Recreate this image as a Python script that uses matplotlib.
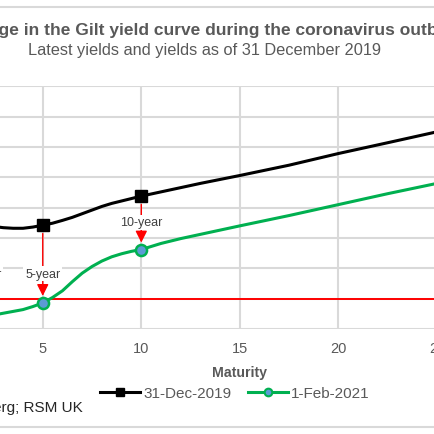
import matplotlib
matplotlib.use("Agg")
import matplotlib.pyplot as plt
from matplotlib.lines import Line2D

plt.rcParams['font.family'] = ['Liberation Sans', 'DejaVu Sans']

# ---- data ----
maturity = [2, 2.5, 3, 3.5, 4, 4.5, 5, 5.5, 6, 6.5, 7, 7.5, 8, 8.5, 9, 9.5,
            10, 11, 12, 13, 15, 17.5, 20, 22.5, 25, 30]
dec2019 = [0.60, 0.595, 0.585, 0.58, 0.58, 0.59, 0.605, 0.622, 0.645, 0.67, 0.70,
           0.73, 0.76, 0.785, 0.805, 0.825, 0.845, 0.88, 0.915, 0.95, 1.015,
           1.10, 1.196, 1.285, 1.375, 1.55]
feb2021 = [-0.14, -0.135, -0.12, -0.105, -0.09, -0.065, -0.035, 0.01, 0.065,
           0.14, 0.21, 0.265, 0.31, 0.345, 0.37, 0.39, 0.405, 0.455, 0.495,
           0.53, 0.60, 0.685, 0.775, 0.865, 0.95, 1.10]
key_maturities = [2, 5, 10, 30]
arrow_maturities = [2, 5, 10]
arrow_labels = ["2-year", "5-year", "10-year"]
label_y = [0.205, 0.205, 0.63]
series_names = ["31-Dec-2019", "1-Feb-2021"]
title = "Change in the Gilt yield curve during the coronavirus outbreak"
subtitle = "Latest yields and yields as of 31 December 2019"
source = "Source: Bloomberg; RSM UK"

GRAY_TXT = "#595959"
GREEN = "#00b050"
BLUE = "#5b9bd5"

fig = plt.figure(figsize=(4.35, 4.35), dpi=100)
W = H = 435.0
# axes: x 0..30 spans px -55.8..535.5 ; y -0.25..1.75 spans px 330..87.3
ax = fig.add_axes([-55.8 / W, (H - 330) / H, (535.5 + 55.8) / W, (330 - 87.3) / H])
ax.set_xlim(0, 30)
ax.set_ylim(-0.25, 1.75)
ax.set_xticks([0, 5, 10, 15, 20, 25, 30])
ax.set_yticks([-0.25 + 0.25 * i for i in range(9)])
ax.grid(True, color="#d9d9d9", linewidth=1.5)
ax.set_axisbelow(True)
for s in ax.spines.values():
    s.set_visible(False)
ax.tick_params(axis='both', length=0, labelsize=10.5, labelcolor=GRAY_TXT, pad=8.5)
ax.set_yticklabels([])
ax.set_xlabel("Maturity", fontsize=10.2, fontweight='bold', color=GRAY_TXT)
ax.xaxis.set_label_coords(0.5, -(366 - 330) / (330 - 87.3))

ax.axhline(0, color="red", linewidth=1.4, zorder=2)

idx = [maturity.index(m) for m in key_maturities]
ax.plot(maturity, dec2019, color="black", linewidth=2.2, marker='s', markersize=8,
        markevery=idx, markerfacecolor='black', markeredgecolor='black', zorder=4,
        label=series_names[0])
ax.plot(maturity, feb2021, color=GREEN, linewidth=2.2, marker='o', markersize=8,
        markevery=idx, markerfacecolor=BLUE, markeredgecolor=GREEN,
        markeredgewidth=1.8, zorder=4, label=series_names[1])

for m, lab, ly in zip(arrow_maturities, arrow_labels, label_y):
    i = maturity.index(m)
    ax.annotate("", xy=(m, feb2021[i]), xytext=(m, dec2019[i]),
                arrowprops=dict(arrowstyle='-|>,head_length=0.7,head_width=0.35',
                                color='red', lw=1.0, shrinkA=6, shrinkB=5),
                zorder=3)
    ax.text(m, ly, lab, ha='center', va='center', fontsize=9, color="#404040",
            bbox=dict(facecolor='white', edgecolor='none', pad=1.2), zorder=3)

# titles
fig.text(214 / W, 1 - 31 / H, title, ha='center', va='center', fontsize=12.5,
         fontweight='bold', color=GRAY_TXT)
fig.text(204.7 / W, 1 - 51 / H, subtitle, ha='center', va='center', fontsize=11.8,
         color=GRAY_TXT)

# legend
handles = [Line2D([], [], color='black', lw=2.2, marker='s', markersize=5.5),
           Line2D([], [], color=GREEN, lw=2.2, marker='o', markersize=5.5,
                  markerfacecolor=BLUE, markeredgecolor=GREEN, markeredgewidth=1.5)]
fig.legend(handles, series_names, loc='center', bbox_to_anchor=(235 / W, 1 - 394.5 / H),
           ncol=2, frameon=False, fontsize=11, handlelength=2.6, handletextpad=0.2,
           columnspacing=1.1, labelcolor=GRAY_TXT, borderpad=0, borderaxespad=0)

fig.text(83 / W, 1 - 408.5 / H, source, ha='right', va='center', fontsize=11,
         color="#262626")

# frame lines
fig.add_artist(Line2D([0, 1], [1 - 8 / H, 1 - 8 / H], color="#d9d9d9", lw=1.5,
                      transform=fig.transFigure))
fig.add_artist(Line2D([0, 1], [1 - 428 / H, 1 - 428 / H], color="#d9d9d9", lw=1.5,
                      transform=fig.transFigure))

fig.savefig("out.png", dpi=100)
